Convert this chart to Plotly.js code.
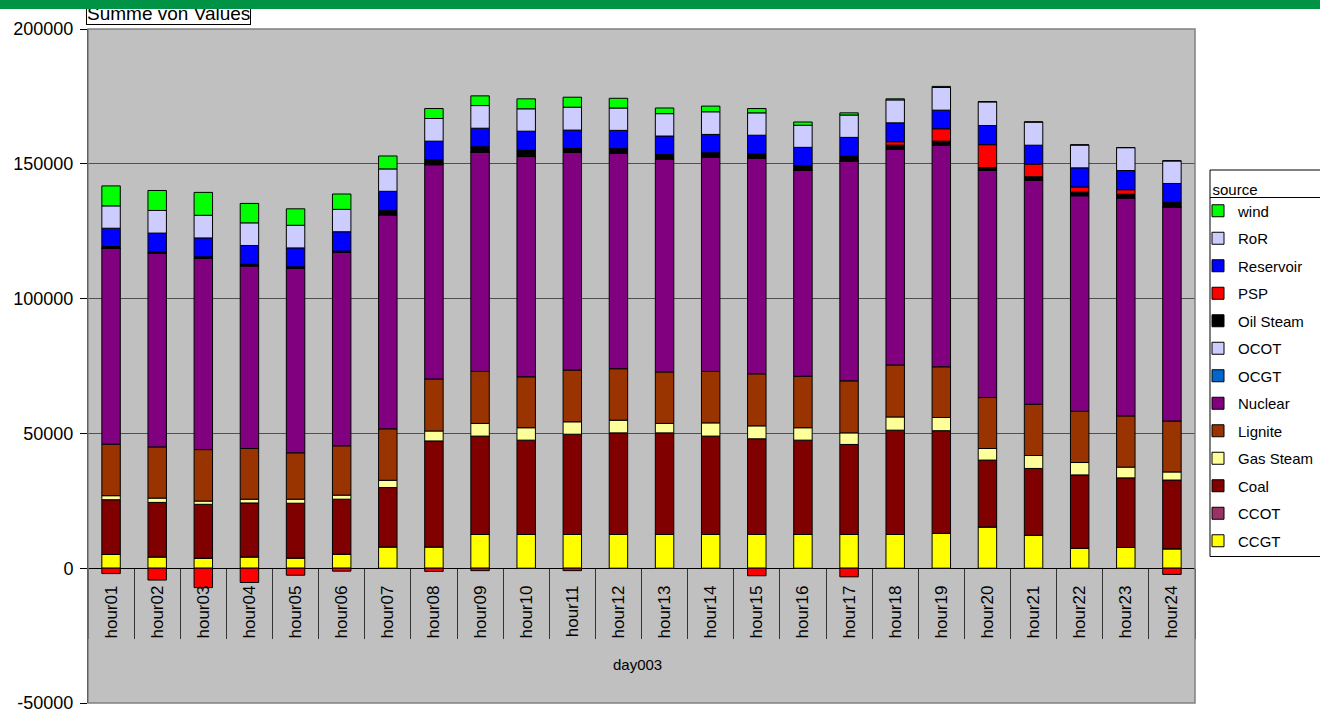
<!DOCTYPE html>
<html>
<head>
<meta charset="utf-8">
<script src="https://cdn.plot.ly/plotly-3.0.1.min.js"></script>
<style>html,body{margin:0;padding:0;background:#fff;}#chart{width:1320px;height:712px;}</style>
</head>
<body>
<div id="chart"></div>
<script>
const hours = ['hour01','hour02','hour03','hour04','hour05','hour06','hour07','hour08','hour09','hour10','hour11','hour12',
               'hour13','hour14','hour15','hour16','hour17','hour18','hour19','hour20','hour21','hour22','hour23','hour24'];
const dayLabel = 'day003';

const CCGT      = [5100,4200,3700,4200,3800,5200,7900,7900,12500,12500,12500,12500,12500,12500,12500,12500,12500,12500,12900,15300,12200,7400,7700,7200];
const CCOT      = [0,0,0,0,0,0,0,0,0,0,0,0,0,0,0,0,0,0,0,0,0,0,0,0];
const Coal      = [20300,20200,20000,20000,20300,20400,22000,39300,36500,35000,37200,37700,37700,36500,35500,35000,33400,38700,38100,24800,24800,27200,25800,25500];
const GasSteam  = [1500,1600,1200,1400,1500,1500,2700,3700,4700,4600,4600,4700,3500,4900,4800,4600,4300,4900,4900,4300,4800,4600,4000,3000];
const Lignite   = [19100,19000,19100,18800,17200,18300,19100,19300,19300,18900,19200,19100,19100,19100,19300,19100,19300,19300,18800,18900,19000,19000,19000,18900];
const Nuclear   = [72600,71800,71000,67800,68400,71700,79400,79500,81400,81700,80700,79900,78900,79400,80100,76400,81500,80000,82100,84300,83100,80000,80900,79400];
const OCGT      = [0,0,0,0,0,0,0,0,0,0,0,0,0,0,0,0,0,0,0,0,0,0,0,0];
const OCOT      = [0,0,0,0,0,0,0,0,0,0,0,0,0,0,0,0,0,0,0,0,0,0,0,0];
const OilSteam  = [700,500,500,500,600,500,1200,1900,1900,2300,1500,1700,1700,1700,1500,1700,1800,1500,1600,1000,1300,1300,1300,1700];
const PSP       = [-2000,-4400,-7200,-5300,-2600,-1100,300,-1200,-900,0,-900,0,0,0,-2800,0,-3200,1300,4600,8500,4700,1900,1700,-2300];
const Reservoir = [6800,7000,7000,7000,7000,7200,7200,6800,6900,7100,6800,6800,6900,6800,6900,6800,7000,7000,6900,7100,7000,7100,7100,7000];
const RoR       = [8300,8400,8400,8400,8400,8300,8300,8400,8400,8300,8500,8300,8300,8400,8300,8200,8300,8500,8400,8800,8600,8500,8500,8400];
const wind      = [7400,7400,8500,7200,6100,5700,4800,3700,3600,3700,3700,3600,2100,2100,1600,1200,800,400,400,0,0,0,0,0];

const yTickVals = [-50000,0,50000,100000,150000,200000];
const yTickText = ['-50000','0','50000','100000','150000','200000'];

const series = [
  ['CCGT', CCGT, '#FFFF00'],
  ['CCOT', CCOT, '#993366'],
  ['Coal', Coal, '#800000'],
  ['Gas Steam', GasSteam, '#FFFF99'],
  ['Lignite', Lignite, '#993300'],
  ['Nuclear', Nuclear, '#800080'],
  ['OCGT', OCGT, '#0066CC'],
  ['OCOT', OCOT, '#CCCCFF'],
  ['Oil Steam', OilSteam, '#000000'],
  ['PSP', PSP, '#FF0000'],
  ['Reservoir', Reservoir, '#0000FF'],
  ['RoR', RoR, '#CCCCFF'],
  ['wind', wind, '#00FF00']
];

const traces = series.map(([name, vals, color], i) => ({
  type: 'bar', name: name, x: hours, y: vals, legendgroup: name,
  legendrank: series.length - i,
  marker: {color: color, line: {color: '#000', width: 1}}
}));

// pixel geometry helpers (paper fractions)
const L = 88, R = 1195, T = 29, B = 703;
const W = R - L, H = B - T;
const px = x => (x - L) / W;
const py = y => (B - y) / H;

const layout = {
  width: 1320, height: 712,
  margin: {l: L, r: 1320 - R, t: T, b: 712 - B, autoexpand: false},
  paper_bgcolor: '#FFFFFF',
  plot_bgcolor: '#C0C0C0',
  font: {family: 'Liberation Sans, Arial, sans-serif', color: '#000', size: 15},
  barmode: 'relative',
  bargap: 0.6,
  showlegend: true,
  xaxis: {
    type: 'category', anchor: 'free', position: 0.2,
    range: [-0.5, 23.5],
    tickangle: -90, ticks: 'outside', tickson: 'boundaries', ticklen: 70,
    tickcolor: '#333', tickwidth: 1,
    ticklabelstandoff: 13,
    tickfont: {size: 17},
    showgrid: false, showline: false, zeroline: false
  },
  yaxis: {
    range: [-50000, 200000],
    tickvals: yTickVals, ticktext: yTickText,
    ticks: 'outside', ticklen: 7, tickcolor: '#000',
    ticklabelstandoff: 3, ticklabeloverflow: 'allow',
    showline: true, linecolor: '#000', linewidth: 1,
    showgrid: true, gridcolor: '#505050', gridwidth: 1,
    zeroline: true, zerolinecolor: '#000', zerolinewidth: 1,
    tickfont: {size: 18}
  },
  legend: {
    x: px(1198), y: py(175), xanchor: 'left', yanchor: 'top',
    borderwidth: 0, bgcolor: 'rgba(0,0,0,0)',
    font: {size: 15},
    title: {text: '\u00a0\u00a0\u00a0source', font: {size: 15}},
    traceorder: 'grouped', tracegroupgap: 5
  },
  shapes: [
    {type: 'rect', xref: 'paper', yref: 'paper', x0: 0, x1: 1, y0: 0, y1: 1,
     line: {color: '#808080', width: 1.5}, layer: 'above'},
    {type: 'rect', xref: 'paper', yref: 'paper', x0: px(1210), x1: px(1340), y0: py(556.5), y1: py(170),
     line: {color: '#000', width: 1}, layer: 'above'},
    {type: 'line', xref: 'paper', yref: 'paper', x0: px(1210), x1: px(1340), y0: py(197.5), y1: py(197.5),
     line: {color: '#000', width: 1}, layer: 'above'}
  ],
  annotations: [
    {text: dayLabel, xref: 'paper', yref: 'paper', x: px(637), y: py(664),
     xanchor: 'center', yanchor: 'middle', showarrow: false, font: {size: 15}},
    {text: 'Summe von Values', xref: 'paper', yref: 'paper', x: px(86), y: py(25),
     xanchor: 'left', yanchor: 'bottom', showarrow: false, font: {size: 19},
     bgcolor: '#FFFFFF', bordercolor: '#000', borderwidth: 1, borderpad: 0},
    {text: ' ', xref: 'paper', yref: 'paper', x: px(0), y: py(0),
     xanchor: 'left', yanchor: 'top', showarrow: false, width: 1320, height: 9,
     bgcolor: '#009245', borderwidth: 0, borderpad: 0, font: {size: 1}}
  ]
};

Plotly.newPlot('chart', traces, layout, {staticPlot: true});
</script>
</body>
</html>
